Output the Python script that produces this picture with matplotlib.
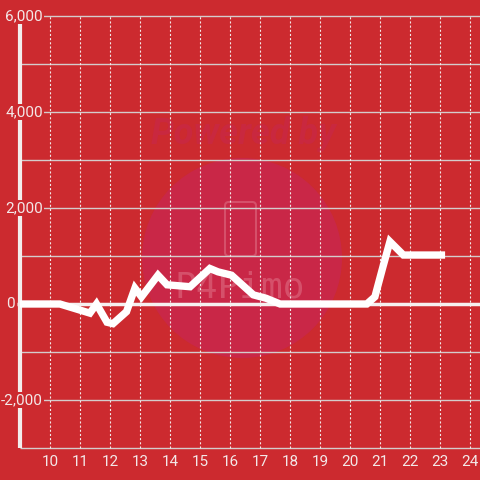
import numpy as np
import matplotlib
matplotlib.use("Agg")
import matplotlib.pyplot as plt
from matplotlib.patches import Circle, FancyBboxPatch

plt.rcParams["font.family"] = ["Roboto", "DejaVu Sans"]
plt.rcParams["lines.scale_dashes"] = False

# データ (時刻, 差枚)
hours = [9.0, 10.33, 11.33, 11.55, 11.9, 12.1, 12.55, 12.83, 13.05, 13.6, 13.9,
         14.67, 15.33, 15.6, 16.05, 16.78, 17.2, 17.67, 20.56, 20.83, 21.1,
         21.33, 21.78, 23.17]
values = [0, 0, -190, 0, -380, -410, -160, 330, 150, 600, 400,
          360, 740, 670, 600, 190, 120, 0, 0, 150, 780,
          1300, 1020, 1020]

x_ticks = list(range(10, 25))
y_ticks = [-2000, 0, 2000, 4000, 6000]
y_grid = list(range(-3000, 6001, 1000))

BG = "#cc2a2f"
FG = "#f3e8e8"

fig = plt.figure(figsize=(4.8, 4.8), dpi=100, facecolor=BG)
ax = fig.add_axes([0, 0, 1, 1])
ax.set_facecolor(BG)
ax.set_xlim(9 - 20 / 30, 24 + 1 / 3)
ax.set_ylim(-3000 - 32 / 96 * 2000, 6000 + 16 / 96 * 2000)
ax.axis("off")

# 透かし
ax.add_patch(Circle((242 / 480, 1 - 258 / 480), 100 / 480, transform=ax.transAxes,
                    facecolor="#c92747", edgecolor="none", zorder=0))
ax.add_patch(FancyBboxPatch((225 / 480, 1 - 256 / 480), 31 / 480, 54 / 480,
                            boxstyle="round,pad=0,rounding_size=0.008",
                            transform=ax.transAxes, facecolor="none",
                            edgecolor="#d5506a", linewidth=1.5, zorder=1))
ax.text(243 / 480, 1 - 134 / 480, "Powered by", color="#c9283f", fontsize=26,
        fontweight="bold", fontstyle="italic", ha="center", va="center",
        transform=ax.transAxes, zorder=1)
ax.text(240 / 480, 1 - 288 / 480, "P4Pimo", color="#d5506a", fontsize=26,
        family="DejaVu Sans Mono", ha="center", va="center",
        transform=ax.transAxes, zorder=1)

# グリッド
ax.hlines(y_grid, 9, 24.4, colors="#d4cccc", linewidth=1, zorder=2)
ax.vlines(x_ticks, -3000, 6000, colors=FG, linewidth=0.8,
          linestyles=(0, (1.5, 1.5)), zorder=2)
ax.hlines(0, 8.9, 24.4, colors="#f6f0f0", linewidth=2.5, zorder=3)
ax.vlines(9, -3000, 6000, colors="#f3eded", linewidth=3, zorder=3)

ax.plot(hours, values, color="white", linewidth=5.3, solid_joinstyle="miter",
        solid_capstyle="butt", zorder=4)

for v in y_ticks:
    if v == 0:
        ax.text(9 - 5 / 30, v, "0", color=FG, fontsize=11, ha="right", va="center", zorder=5)
    else:
        ax.text(9 + 23 / 30, v, f"{v:,}", color=FG, fontsize=11, ha="right", va="center",
                zorder=5, bbox=dict(facecolor=BG, edgecolor="none", pad=1))

for h in x_ticks:
    ax.text(h, -3000 - 14 / 96 * 2000, str(h), color=FG, fontsize=11,
            ha="center", va="center", zorder=5)

fig.savefig("out.png", dpi=100, facecolor=BG)
